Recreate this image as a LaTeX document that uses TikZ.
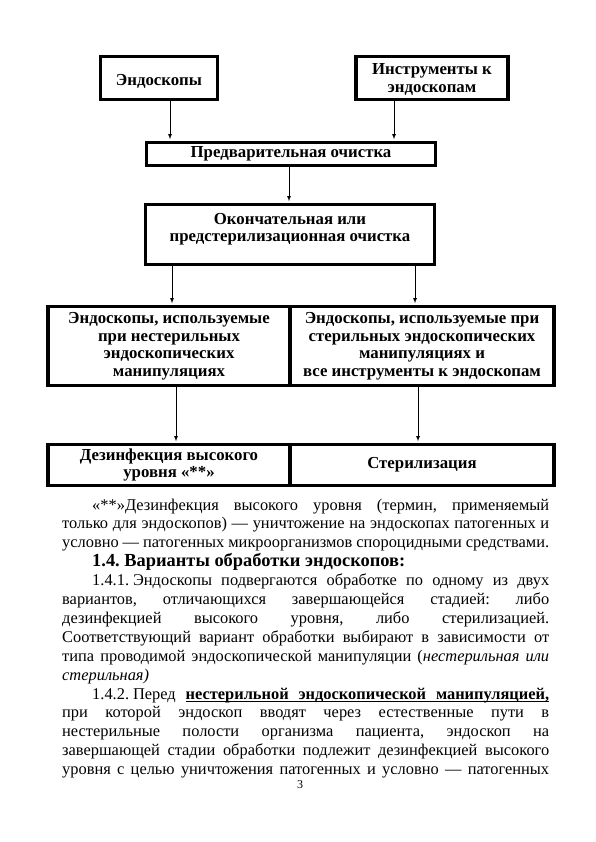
\documentclass[tikz,border=0pt]{standalone}
\usepackage{fontspec}
\setmainfont{Liberation Serif}
\usetikzlibrary{arrows}
\newcommand{\boxfont}{\fontsize{16.8}{17.5}\selectfont\bfseries}
\newcommand{\bodyfont}{\fontsize{16.4}{18.9}\selectfont}
\newcommand{\headfont}{\fontsize{18.4}{18.9}\selectfont\bfseries}
\newcommand{\ind}{\hspace*{30pt}}
\newcommand{\ulw}[1]{\setbox0\hbox{#1}\rlap{\rule[-2.8pt]{\wd0}{1pt}}\box0}
\newcommand{\ulsp}{\leaders\hrule height -1.8pt depth 2.8pt\hskip\fontdimen2\font plus \fontdimen3\font minus \fontdimen4\font}

\begin{document}
\begin{tikzpicture}[x=1pt,y=-1pt,
  box/.style={draw,line width=3.5pt,align=center,inner sep=0pt,font=\boxfont},
  arr/.style={-latex,line width=0.8pt,shorten >=1.5pt}]
\useasboundingbox (0,0) rectangle (596,842);
				% scheme
				\node[box,minimum width=117pt,minimum height=43pt,text height=17pt] (endo) at (159,78) {Эндоскопы};
				\node[box,minimum width=152pt,minimum height=43pt,text depth=-2pt] (instr) at (432,78) {Инструменты к\\эндоскопам};
				\node[box,minimum width=289pt,minimum height=23pt] (pre) at (291,154) {Предварительная очистка};
				\node[box,minimum width=289pt,minimum height=60pt,text depth=14pt] (final) at (290,234.5) {Окончательная или\\предстерилизационная очистка};
				\node[box,minimum width=242pt,minimum height=79pt] (nonster) at (169,346) {Эндоскопы, используемые\\при нестерильных\\эндоскопических\\манипуляциях};
				\node[box,minimum width=264pt,minimum height=79pt] (ster) at (422,346) {Эндоскопы, используемые при\\стерильных эндоскопических\\манипуляциях и\\все инструменты к эндоскопам};
				\node[box,minimum width=242pt,minimum height=41pt] (disinf) at (169,465) {Дезинфекция высокого\\уровня «**»};
				\node[box,minimum width=264pt,minimum height=41pt] (steril) at (422,465) {Стерилизация};
				\draw[arr] (endo.south -| 170,0) -- (pre.north -| 170,0);
				\draw[arr] (instr.south -| 394,0) -- (pre.north -| 394,0);
				\draw[arr] (pre.south -| 289,0) -- (final.north -| 289,0);
				\draw[arr] (final.south -| 172,0) -- (nonster.north -| 172,0);
				\draw[arr] (final.south -| 415,0) -- (ster.north -| 415,0);
				\draw[arr] (nonster.south -| 176,0) -- (disinf.north -| 176,0);
				\draw[arr] (ster.south -| 418,0) -- (steril.north -| 418,0);
				% text below
				\node[anchor=base west,inner sep=0pt] (text) at (62,510) {\begin{minipage}[t]{487pt}\bodyfont\frenchspacing
\ind«**»Дезинфекция высокого уровня (термин, применяемый\linebreak
только для эндоскопов) — уничтожение на эндоскопах патогенных и\linebreak
условно — патогенных микроорганизмов спороцидными средствами.\par
\ind{\headfont 1.4. Варианты обработки эндоскопов:}\par
\ind1.4.1.\hspace{4pt}Эндоскопы подвергаются обработке по одному из двух\linebreak
вариантов, отличающихся завершающейся стадией: либо\linebreak
дезинфекцией высокого уровня, либо стерилизацией.\linebreak
Соответствующий вариант обработки выбирают в зависимости от\linebreak
типа проводимой эндоскопической манипуляции (\textit{нестерильная или}\linebreak
\textit{стерильная)}\par
\ind1.4.2.\hspace{4pt}Перед \textbf{\ulw{нестерильной}\ulsp\ulw{эндоскопической}\ulsp\ulw{манипуляцией,}}\linebreak
при которой эндоскоп вводят через естественные пути в\linebreak
нестерильные полости организма пациента, эндоскоп на\linebreak
завершающей стадии обработки подлежит дезинфекцией высокого\linebreak
уровня с целью уничтожения патогенных и условно — патогенных{\parfillskip=0pt\par}
\end{minipage}};
				\node[font=\fontsize{12}{14}\selectfont] (page) at (300,785) {3};
			\end{tikzpicture}
\end{document}
